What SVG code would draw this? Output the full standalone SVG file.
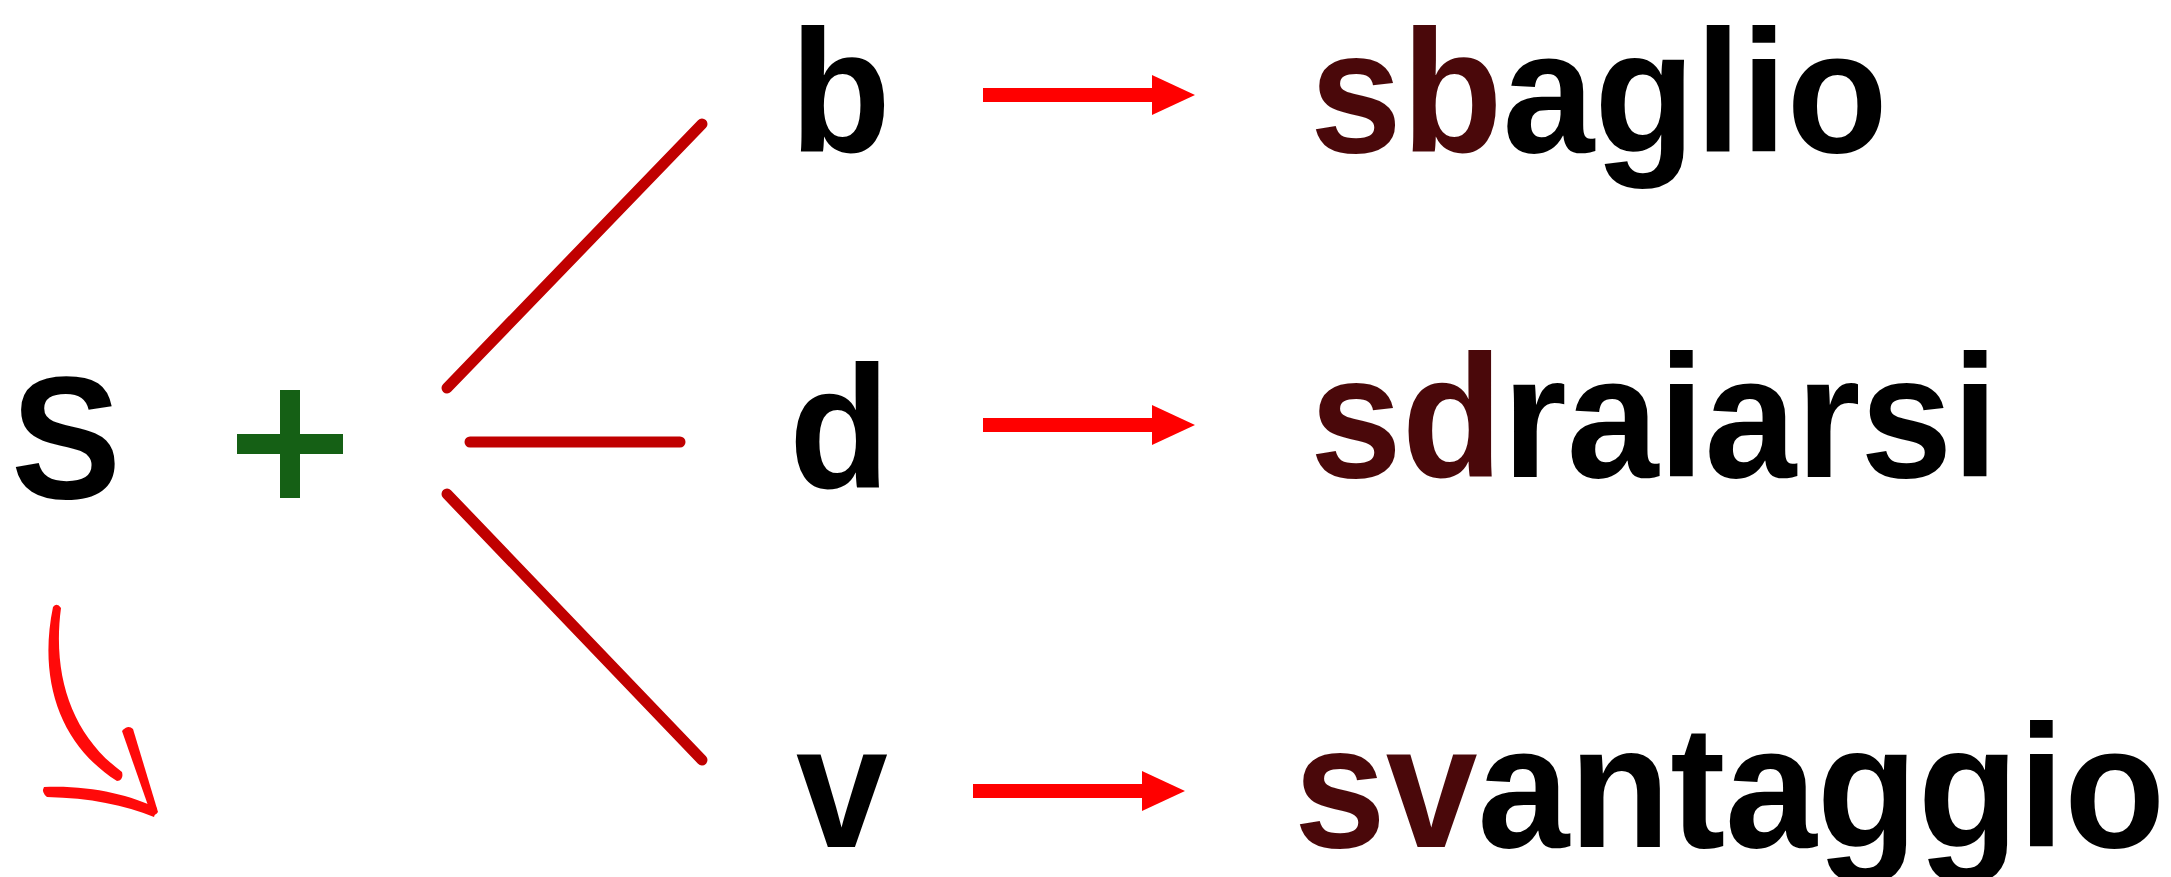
<svg xmlns="http://www.w3.org/2000/svg" width="2171" height="877" viewBox="0 0 2171 877">
<defs>
<style>
.t{font-family:"Liberation Sans",Arial,sans-serif;font-weight:bold;font-size:175px;fill:#000}
.m{fill:#4a080a}
.br{stroke:#c00000;stroke-width:11;stroke-linecap:round;fill:none}
.ar{stroke:#ff0000;stroke-width:14;fill:none}
.hd{fill:#ff0000}
.cv{fill:#ff0a0a}
</style>
</defs>
<rect width="2171" height="877" fill="#fff"/>
<g id="node-S"><text class="t" transform="translate(11,498) scale(0.943,1)">S</text></g>
<g id="node-plus"><rect x="280" y="390" width="20" height="108" fill="#156015"/><rect x="237" y="434" width="106" height="20" fill="#156015"/></g>
<g id="node-b"><text class="t" transform="translate(790,152) scale(0.943,1)">b</text></g>
<g id="node-d"><text class="t" transform="translate(789,488) scale(0.943,1)">d</text></g>
<g id="node-v"><text class="t" transform="translate(796,847) scale(0.943,1)">v</text></g>
<g id="node-sbaglio"><text class="t" transform="translate(1310,152) scale(0.943,1)"><tspan class="m">sb</tspan>aglio</text></g>
<g id="node-sdraiarsi"><text class="t" transform="translate(1310,477) scale(0.943,1)"><tspan class="m">sd</tspan>raiarsi</text></g>
<g id="node-svantaggio"><text class="t" transform="translate(1294,847) scale(0.943,1)"><tspan class="m">sv</tspan>antaggio</text></g>
<g id="connectors">
<line class="br" x1="447" y1="388" x2="702" y2="124"/>
<line class="br" x1="470" y1="442" x2="680" y2="442"/>
<line class="br" x1="447" y1="494" x2="702" y2="760"/>
<line class="ar" x1="983" y1="95" x2="1155" y2="95"/>
<polygon class="hd" points="1152,75 1195,95 1152,115"/>
<line class="ar" x1="983" y1="425" x2="1155" y2="425"/>
<polygon class="hd" points="1152,405 1195,425 1152,445"/>
<line class="ar" x1="973" y1="791" x2="1145" y2="791"/>
<polygon class="hd" points="1142,771 1185,791 1142,811"/>
<path class="cv" d="M53,607 Q57,602 61,608 C52,676 72,735 122,772 Q124,780 117,781 C60,745 38,680 53,607 Z"/>
<path class="cv" d="M122,731 Q128,724 133,729 L158,812 Q155,817 151,814 Z"/>
<path class="cv" d="M44,787 C90,785 130,795 157,808 L154,817 C125,805 90,798 47,797 Q41,792 44,787 Z"/>
</g>
</svg>
